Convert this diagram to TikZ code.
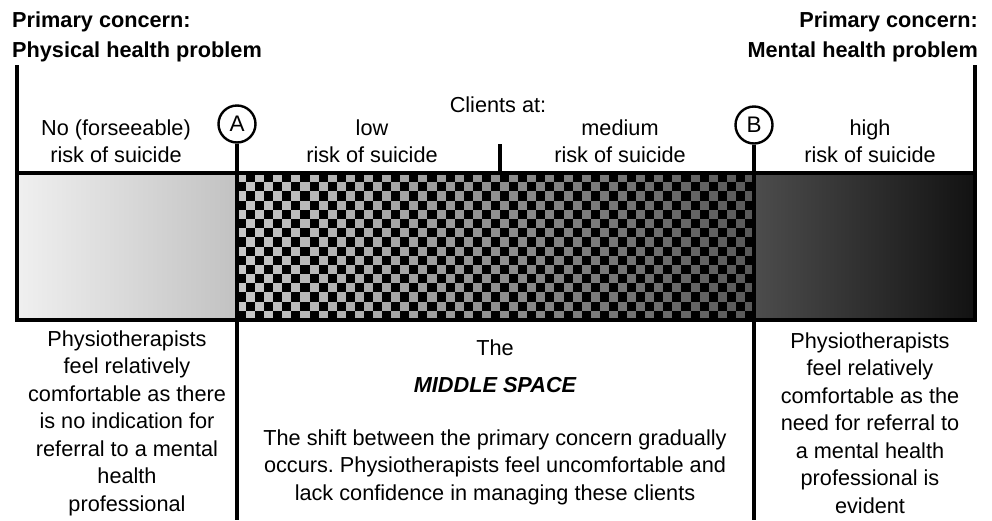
\documentclass[tikz,border=0pt]{standalone}
\usepackage{fontspec}
\setmainfont{Liberation Sans}
\frenchspacing
\begin{document}
\begin{tikzpicture}[x=1pt,y=-1pt,
    txt/.style={align=center, inner sep=0pt, font=\fontsize{21.7}{27.5}\selectfont},
    head/.style={inner sep=0pt, font=\fontsize{21.7}{30}\selectfont\bfseries},
    letter/.style={draw, circle, line width=2.4pt, minimum size=37pt, inner sep=0pt,
      font=\fontsize{22.5}{26}\selectfont},
    rule/.style={line width=3.5pt}]
  \useasboundingbox (0,0) rectangle (992,520);
  % Corner points of the bar
  \coordinate (barNW) at (17,173);
  \coordinate (barSE) at (975,320);
  \coordinate (barNE) at (975,173);
  \coordinate (lTop) at (17,65);
  \coordinate (rTop) at (975,65);
  % Left segment: no risk
  \shade[left color=black!6, right color=black!24] (17,173) rectangle (237,320);
  % Middle segment: checkerboard
  \fill[black] (237,173) rectangle (754,320);
  \foreach \i in {0,...,56}{
    \pgfmathsetmacro\greyval{22+43*\i/56}
    \foreach \j in {0,...,15}{
      \pgfmathtruncatemacro\parity{mod(\i+\j,2)}
      \ifnum\parity=0
        \fill[black!\greyval] (237+\i*9.07,173+\j*9.19) rectangle ++(9.07,9.19);
      \fi
    }
  }
  % Right segment: high risk
  \shade[left color=black!70, right color=black!93] (754,173) rectangle (975,320);
  % Bar outline
  \draw[rule] (barNW) rectangle (barSE);
  % Side rules
  \draw[rule] (lTop) -- (barNW);
  \draw[rule] (rTop) -- (barNE);
  % Headings
  \node[head, anchor=west, align=left] (physH) at (12,37) {Primary concern:\\Physical health problem};
  \node[head, anchor=east, align=right] (mentH) at (978,37) {Primary concern:\\Mental health problem};
  % Markers A and B
  \node[letter] (A) at (237,124) {A};
  \node[letter] (B) at (754,125) {B};
  \coordinate (Abot) at (237,520);
  \coordinate (Bbot) at (754,520);
  \draw[rule] (A.south) -- (Abot);
  \draw[rule] (B.south) -- (Bbot);
  % Tick between low and medium
  \coordinate (tickTop) at (500,144);
  \coordinate (tickBot) at (500,173);
  \draw[rule] (tickTop) -- (tickBot);
  % Risk labels
  \node[txt] (clients) at (498,105) {Clients at:};
  \node[txt] (noRisk) at (116,141) {No (forseeable)\\risk of suicide};
  \node[txt] (lowRisk) at (372,141) {low\\risk of suicide};
  \node[txt] (medRisk) at (620,141) {medium\\risk of suicide};
  \node[txt] (highRisk) at (870,141) {high\\risk of suicide};
  % Texts below the bar
  \node[txt] (leftTxt) at (127,423) {Physiotherapists\\feel relatively\\comfortable as there\\is no indication for\\referral to a mental\\health\\professional};
  \node[txt] (the) at (495,348) {The};
  \node[txt, font=\fontsize{21.7}{27.5}\selectfont\bfseries\itshape] (middle) at (495,385) {MIDDLE SPACE};
  \node[txt] (midTxt) at (495,467) {The shift between the primary concern gradually\\occurs. Physiotherapists feel uncomfortable and\\lack confidence in managing these clients};
  \node[txt] (rightTxt) at (870,423) {Physiotherapists\\feel relatively\\comfortable as the\\need for referral to\\a mental health\\professional is\\evident};
\end{tikzpicture}
\end{document}
